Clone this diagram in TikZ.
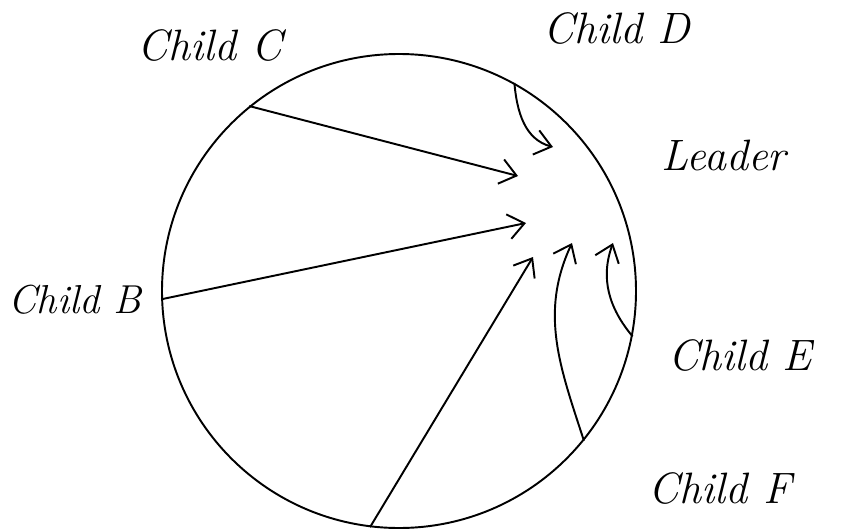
\documentclass[tikz,border=0pt]{standalone}
\usepackage{tikz}
\usetikzlibrary{arrows.meta,positioning}

\begin{document}
\begin{tikzpicture}[
    label/.style={font=\fontsize{25}{30}\selectfont\itshape, inner sep=0pt},
    ring/.style={circle, draw, line width=1.1pt, minimum size=9.48cm, inner sep=0pt},
    arrow/.style={-{Straight Barb[length=3.2mm,width=5mm]}, line width=1.1pt}
]
\useasboundingbox (0,0) rectangle (17,10.58);

% Nodes
\node[ring] (ring) at (7.98,4.76) {};
\node[label] (childc) at (4.2,9.68) {Child C};
\node[label] (childd) at (12.34,10.02) {Child D};
\node[label] (leader) at (14.48,7.48) {Leader};
\node[label, font=\fontsize{23}{28}\selectfont\itshape] (childb) at (1.5,4.58) {Child B};
\node[label] (childe) at (14.8,3.48) {Child E};
\node[label] (childf) at (14.4,0.82) {Child F};

% Arrow ends
\coordinate (tipc) at (10.36,7.06);
\coordinate (tipb) at (10.52,6.12);
\coordinate (tipa) at (10.66,5.44);
\coordinate (tipd) at (11.06,7.64);
\coordinate (tipf) at (11.44,5.72);
\coordinate (tipe) at (12.26,5.72);

% Arrows
\draw[arrow] (ring.129.3) -- (tipc);
\draw[arrow] (ring.182.7) -- (tipb);
\draw[arrow] (ring.263.7) -- (tipa);
\draw[arrow] (ring.61.3) to[out=-85, in=165] (tipd);
\draw[arrow] (ring.-39) to[out=108, in=-115] (tipf);
\draw[arrow] (ring.-11.4) to[out=130, in=-110] (tipe);
\end{tikzpicture}
\end{document}
